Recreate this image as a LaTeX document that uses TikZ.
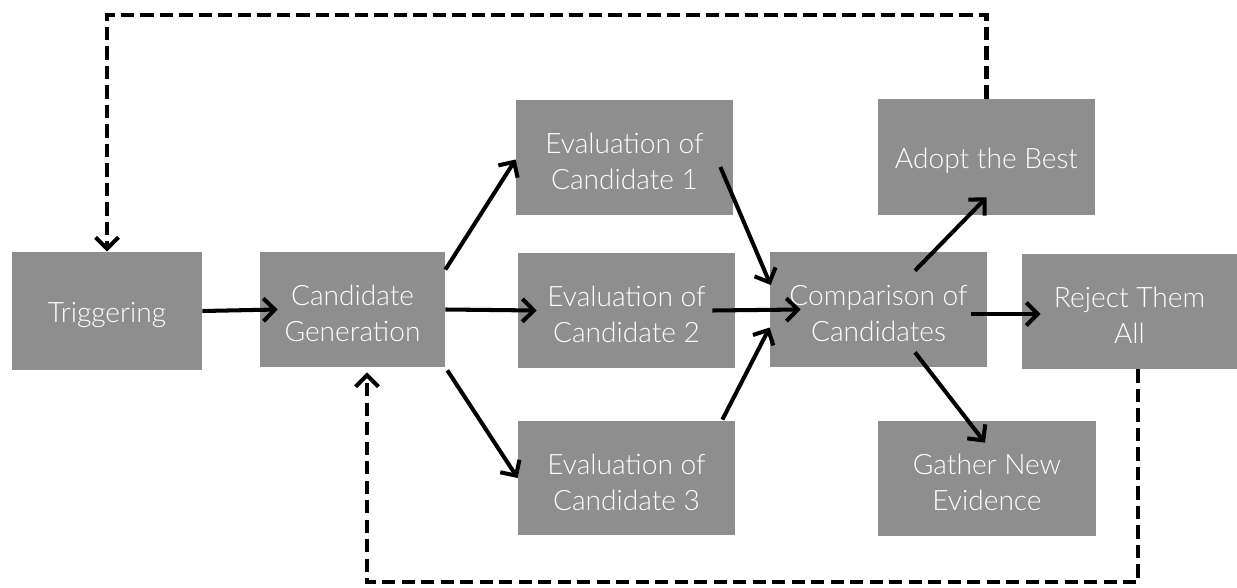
\documentclass[tikz,border=0pt]{standalone}
\usepackage{fontspec}
\setmainfont{Lato}[UprightFont=* Light]
\usetikzlibrary{arrows.meta,calc,fit}
\definecolor{boxgrey}{HTML}{8E8E8E}
\tikzset{
  box/.style={fill=boxgrey, draw=none, inner sep=0pt},
  lbl/.style={text=white, align=center, yshift=-2.3pt, font=\fontsize{16}{20.5}\selectfont},
  arr/.style={line width=2.3pt, -{Straight Barb[length=6.5pt,width=13pt]}},
  darr/.style={arr, dash pattern=on 7.5pt off 3.6pt}
}
\begin{document}
\begin{tikzpicture}[x=0.02cm,y=-0.02cm]
\useasboundingbox (0,0) rectangle (1237,588);
\node[box, fit={(12,252) (202,370)}] (trig) {};
\node[lbl] at (trig.center) (trigt) {Triggering};
\node[box, fit={(260,252) (445,367)}] (gen) {};
\node[lbl] at (gen.center) (gent) {Candidate\\Generation};
\node[box, fit={(516,100) (733,215)}] (e1) {};
\node[lbl] at (e1.center) (e1t) {Evaluation of\\Candidate 1};
\node[box, fit={(518,253) (735,368)}] (e2) {};
\node[lbl] at (e2.center) (e2t) {Evaluation of\\Candidate 2};
\node[box, fit={(518,421) (735,535)}] (e3) {};
\node[lbl] at (e3.center) (e3t) {Evaluation of\\Candidate 3};
\node[box, fit={(770,252) (987,367)}] (comp) {};
\node[lbl] at (comp.center) (compt) {Comparison of\\Candidates};
\node[box, fit={(878,99) (1095,215)}] (adopt) {};
\node[lbl] at (adopt.center) (adoptt) {Adopt the Best};
\node[box, fit={(1022,254) (1237,369)}] (rej) {};
\node[lbl] at (rej.center) (rejt) {Reject Them\\All};
\node[box, fit={(878,421) (1096,536)}] (gath) {};
\node[lbl] at (gath.center) (gatht) {Gather New\\Evidence};

\draw[arr] (trig.east) -- ($(gen.west)+(18,0)$);
\draw[arr] ($(gen.north east)+(0,18)$) -- ($(e1.west)+(0,2)$);
\draw[arr] (gen.east) -- ($(e2.west)+(19,0)$);
\draw[arr] ($(gen.south east)+(2,3)$) -- (e3.west);
\draw[arr] ($(e1.east)+(-13,9.5)$) -- ($(comp.west)+(1,-24.5)$);
\draw[arr] ($(e2.east)+(-23,0)$) -- ($(comp.west)+(31,0)$);
\draw[arr] ($(e3.north east)+(-13,-1)$) -- ($(comp.west)+(0,18)$);
\draw[arr] ($(comp.north)+(36.5,19)$) -- ($(adopt.south)+(0,-18)$);
\draw[arr] ($(comp.east)+(-16.5,4.5)$) -- ($(rej.west)+(19,2.5)$);
\draw[arr] ($(comp.south)+(36.5,-15)$) -- ($(gath.north)+(-2,22)$);

\coordinate (topy) at (0,15);
\draw[darr] (adopt.north) -- (adopt.north |- topy) -| (trig.north);
\draw[darr] ($(rej.south)+(8.5,0)$) |- ($(gen.south)+(14.5,215)$) -- ($(gen.south)+(14.5,5)$);
\end{tikzpicture}
\end{document}
